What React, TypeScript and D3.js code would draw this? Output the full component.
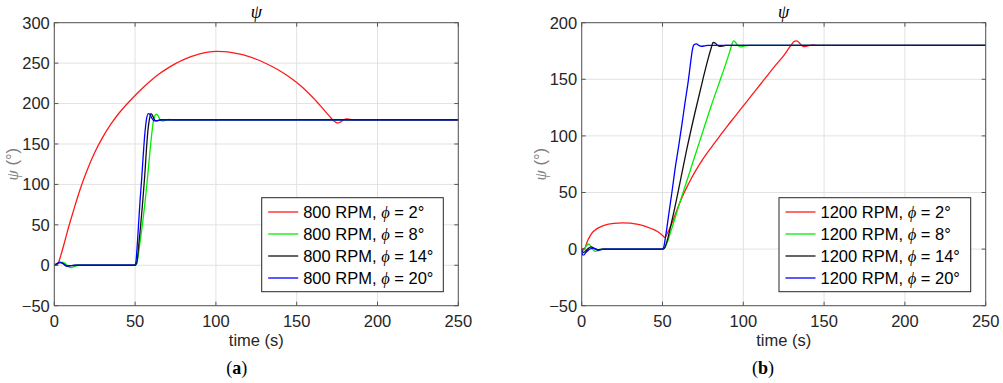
import React from 'react';
import * as d3 from 'd3';

type Pt = [number, number];

// time (s), psi (deg)
const a800phi2: Pt[] = [[0,0],[1.5,0.3],[2.5,3],[4,12],[6,26],[8,41],[10,55],[13,75],[16,94],[20,116],[25,139.5],[30,158.5],[35,174.5],[40,188],[45,199.5],[50,210],[55,219.9],[60,228.9],[65,236.8],[70,243.5],[75,249.3],[80,254.3],[85,258.4],[90,261.5],[95,263.6],[100,264.6],[105,264.3],[110,263],[115,261],[120,258.3],[125,254.8],[130,250.5],[135,245.5],[140,240],[145,233.5],[150,226],[155,217.5],[160,207.5],[165,196.5],[170,185],[172.5,179.5],[174.5,176.5],[175.7,176],[177,177],[179,180],[181,181],[183,180.3],[185,180],[250,180]];
const a800phi8: Pt[] = [[0,0],[2,2],[4,3.7],[5.6,3.7],[7.5,1],[9,-2],[10.7,-3],[12.5,-1.5],[15.9,0],[50,0],[51,2],[53,28],[55,58],[56.3,81],[58,115],[60,157],[61.3,178],[62.5,186],[63.3,187],[64.2,185],[65.2,181],[66.4,178.5],[67.5,178.5],[69,179.8],[71,180.3],[73,180],[250,180]];
const a800phi14: Pt[] = [[0,0],[1,1],[3.5,3.5],[5.5,2],[7.7,-1],[10,-0.5],[13,0],[50,0],[51,3],[52.5,30],[54.8,81],[56,112],[57,143],[58,168],[59,182],[59.8,187.5],[60.6,186],[61.6,181.5],[62.6,179],[64,179],[66,180],[250,180]];
const a800phi20: Pt[] = [[0,0],[1,1.5],[3.5,3.7],[5.5,2],[7.7,-1],[10,-0.5],[13.8,0],[50,0],[50.5,4],[51.5,30],[53.1,81],[54,105],[55,135],[56,162],[57,180],[58.2,187.5],[59.2,186.5],[60.2,182.5],[61.5,179],[63.4,178.5],[65,179.6],[67,180],[250,180]];

const b1200phi2: Pt[] = [[0,0],[2,1],[3,5],[4,8.5],[5,11],[6,13.5],[8,16.5],[10,18.5],[13,20.5],[16,21.8],[20,22.7],[25,23.2],[30,23],[35,21.8],[40,19.8],[45,17],[48,14.5],[50,12],[51.5,10.3],[53,14],[55,20],[57.5,29],[60,38.5],[62.5,47],[65,54.5],[67.5,61.5],[70,68],[75,79.5],[80,89.5],[85,99],[90,108.5],[95,117.5],[100,126.5],[105,135.5],[110,144.5],[115,153.5],[120,162.5],[125,171],[128,177],[130,181],[131.5,183.5],[133,184],[134.5,182.5],[136,180],[137.5,178.8],[139,179.2],[141,180],[143,180.4],[146,180],[250,180]];
const b1200phi8: Pt[] = [[0,0],[1,-1],[2.5,2],[4.1,4.5],[5.1,3.5],[6.5,0.5],[8.2,-2],[10,-1.5],[13,0],[50,0],[51,0.5],[53,6],[55,15],[57.7,27],[60,38],[65,60],[70,82],[75,104],[80,126],[85.6,149],[89,163],[91.5,174],[93,181],[93.8,184],[95,183],[96.5,180],[98,178.6],[99.5,178.8],[101,179.6],[104,180],[250,180]];
const b1200phi14: Pt[] = [[0,0],[1,-3],[2.5,-1.5],[4,0.5],[6,2],[8,0.5],[10,-0.5],[13,0],[50,0],[51,0.5],[53,8],[55,20],[57.7,37],[60,53],[65,88],[70,120],[75,150],[78,167],[80,177],[81.4,182.5],[82.8,181.8],[84,180],[85.5,179],[87,179.3],[89,180],[250,180]];
const b1200phi20: Pt[] = [[0,0],[0.6,-5.3],[1.5,-5],[2.5,-3],[4.1,-0.9],[5.5,0.3],[7.2,0.8],[9,-0.3],[10.3,-1],[12,-0.5],[14,0],[50,0],[50.5,0.5],[52,12],[54,32],[56,52],[57.7,70],[60,91],[62,110],[64,130],[66,149],[67.5,166],[68.5,176],[69.5,180.5],[71,181.3],[72.5,180],[74,179.2],[76,179.5],[78,180],[250,180]];

const xTicks = [0, 50, 100, 150, 200, 250];
const yTicksA = [-50, 0, 50, 100, 150, 200, 250, 300];
const yTicksB = [-50, 0, 50, 100, 150, 200];
const phiLabels = ['2°', '8°', '14°', '20°'];
const colors = ['#ff1a1a', '#00ee00', '#111111', '#0000ff'];

const sans = '"Liberation Sans", Arial, sans-serif';
const serif = '"Liberation Serif", "Times New Roman", serif';
const fs = 16.5;

type PanelProps = {
  left: number;
  series: Pt[][];
  yTicks: number[];
  rpm: string;
  legendWidth: number;
  tag: string;
  tagX: number;
};

const Panel = ({ left, series, yTicks, rpm, legendWidth, tag, tagX }: PanelProps) => {
  const top = 22.7, bottom = 305.7, right = left + 404;
  const x = d3.scaleLinear().domain([0, 250]).range([left, right]);
  const y = d3.scaleLinear().domain([yTicks[0], yTicks[yTicks.length - 1]]).range([bottom, top]);
  const line = d3.line<Pt>().x(d => x(d[0])).y(d => y(d[1])).curve(d3.curveMonotoneX);
  const axisCol = '#555';
  const tl = 4;
  const lgRight = right - 15, lgTop = 197.7, lgLeft = lgRight - legendWidth;
  const midX = (left + right) / 2;

  return (
    <g>
      {/* grid */}
      {xTicks.map(t => (
        <line key={'gx' + t} x1={x(t)} x2={x(t)} y1={top} y2={bottom} stroke="#e2e2e2" strokeWidth={1} />
      ))}
      {yTicks.map(t => (
        <line key={'gy' + t} x1={left} x2={right} y1={y(t)} y2={y(t)} stroke="#e2e2e2" strokeWidth={1} />
      ))}
      {/* curves */}
      <g clipPath={`url(#clip${tag})`}>
        {series.map((s, i) => (
          <path key={i} d={line(s) || ''} fill="none" stroke={colors[i]} strokeWidth={1.3} />
        ))}
      </g>
      {/* ticks */}
      {xTicks.map(t => (
        <g key={'tx' + t}>
          <line x1={x(t)} x2={x(t)} y1={bottom} y2={bottom - tl} stroke={axisCol} />
          <line x1={x(t)} x2={x(t)} y1={top} y2={top + tl} stroke={axisCol} />
          <text x={x(t)} y={327} textAnchor="middle" fontFamily={sans} fontSize={fs} fill="#262626">{t}</text>
        </g>
      ))}
      {yTicks.map(t => (
        <g key={'ty' + t}>
          <line x1={left} x2={left + tl} y1={y(t)} y2={y(t)} stroke={axisCol} />
          <line x1={right} x2={right - tl} y1={y(t)} y2={y(t)} stroke={axisCol} />
          <text x={left - 4.5} y={y(t)} dy="0.36em" textAnchor="end" fontFamily={sans} fontSize={fs} fill="#262626">
            {t < 0 ? '\u2212' + Math.abs(t) : t}
          </text>
        </g>
      ))}
      <rect x={left} y={top} width={right - left} height={bottom - top} fill="none" stroke={axisCol} strokeWidth={1} />
      {/* titles */}
      <text x={midX} y={18} textAnchor="middle" fontFamily={serif} fontStyle="italic" fontSize={18} fill="#000">ψ</text>
      <text x={midX} y={346} textAnchor="middle" fontFamily={sans} fontSize={fs} fill="#262626">time (s)</text>
      <text transform={`translate(${left - 36},${(top + bottom) / 2}) rotate(-90)`} textAnchor="middle" fontFamily={sans} fontSize={fs} fill="#808080">
        <tspan fontFamily={serif} fontStyle="italic">ψ</tspan> (°)
      </text>
      <text x={tagX} y={374} textAnchor="middle" fontFamily={serif} fontSize={18} fill="#000">
        (<tspan fontWeight="bold">{tag}</tspan>)
      </text>
      {/* legend */}
      <rect x={lgLeft} y={lgTop} width={legendWidth} height={94} fill="#fff" stroke="#262626" strokeWidth={1} />
      {phiLabels.map((p, i) => {
        const ry = lgTop + 14.3 + i * 22;
        return (
          <g key={'lg' + i}>
            <line x1={lgLeft + 6.5} x2={lgLeft + 36.5} y1={ry} y2={ry} stroke={colors[i]} strokeWidth={1.3} />
            <text x={lgLeft + 41.5} y={ry} dy="0.36em" fontFamily={sans} fontSize={fs} fill="#000">
              {rpm} RPM, <tspan fontFamily={serif} fontStyle="italic">ϕ</tspan> = {p}
            </text>
          </g>
        );
      })}
      <defs>
        <clipPath id={`clip${tag}`}>
          <rect x={left} y={top} width={right - left} height={bottom - top} />
        </clipPath>
      </defs>
    </g>
  );
};

export default function App() {
  return (
    <svg width={1003} height={383} style={{ position: 'absolute', left: 0, top: 0, background: '#fff' }}>
      <rect width={1003} height={383} fill="#fff" />
      <Panel left={54.3} series={[a800phi2, a800phi8, a800phi14, a800phi20]} yTicks={yTicksA} rpm="800" legendWidth={181.6} tag="a" tagX={236.7} />
      <Panel left={581.7} series={[b1200phi2, b1200phi8, b1200phi14, b1200phi20]} yTicks={yTicksB} rpm="1200" legendWidth={191.7} tag="b" tagX={763} />
    </svg>
  );
}
